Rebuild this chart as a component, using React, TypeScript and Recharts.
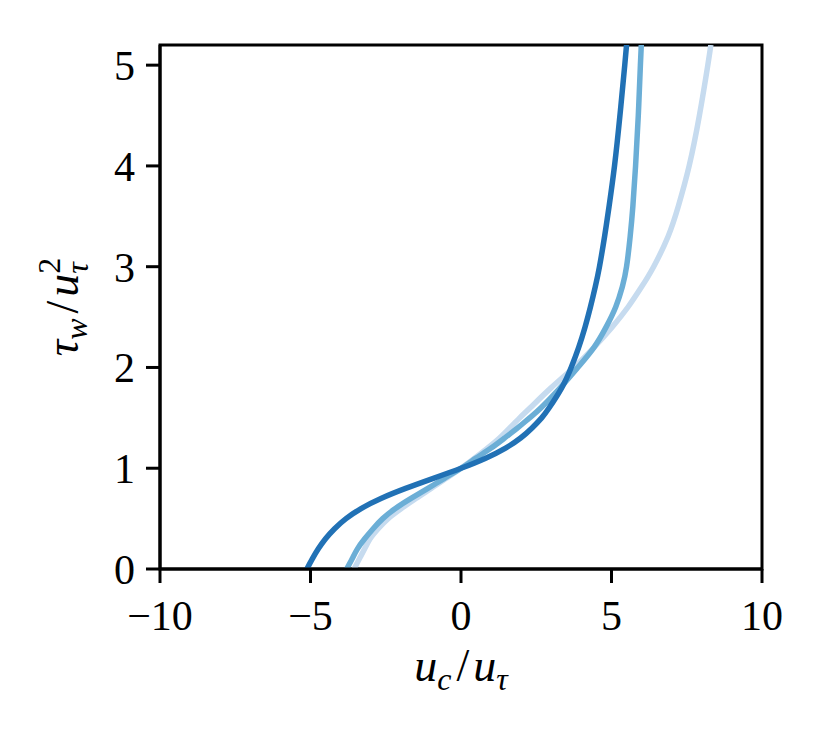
import { LineChart, Line, XAxis, YAxis, ReferenceArea } from 'recharts'

// wall shear stress levels (y) shared by all three curves
const tau = [
  0, 0.1, 0.2, 0.3, 0.4, 0.5, 0.6, 0.7, 0.8, 0.9, 1.0, 1.1, 1.2, 1.3, 1.4, 1.5, 1.6, 1.8, 2.0, 2.2,
  2.4, 2.6, 2.8, 3.0, 3.3, 3.6, 4.0, 4.5, 5.0, 5.2,
]

// u_c / u_tau at the tau levels above
const darkU = [
  -5.12, -4.94, -4.74, -4.5, -4.2, -3.82, -3.32, -2.66, -1.84, -0.92, 0, 0.82, 1.48, 1.98, 2.36, 2.68,
  2.93, 3.35, 3.66, 3.91, 4.12, 4.3, 4.46, 4.6, 4.77, 4.92, 5.1, 5.28, 5.44, 5.5,
]
const midU = [
  -3.8, -3.62, -3.44, -3.2, -2.92, -2.6, -2.18, -1.66, -1.1, -0.55, 0, 0.5, 1.0, 1.45, 1.88, 2.28,
  2.66, 3.3, 3.88, 4.42, 4.82, 5.14, 5.36, 5.5, 5.62, 5.71, 5.8, 5.89, 5.96, 5.99,
]
const lightU = [
  -3.55, -3.38, -3.2, -3.02, -2.75, -2.42, -1.98, -1.5, -0.99, -0.49, 0, 0.45, 0.88, 1.28, 1.62, 1.95,
  2.3, 3.0, 3.75, 4.42, 5.02, 5.55, 6.0, 6.4, 6.88, 7.22, 7.58, 7.92, 8.2, 8.3,
]

const xTicks = [-10, -5, 0, 5, 10]
const yTicks = [0, 1, 2, 3, 4, 5]

const toPoints = (u: number[]) => u.map((x, i) => ({ x, y: tau[i] }))

const FONT = "'Liberation Serif', serif"
const tickStyle = { fill: '#000', fontSize: 42, fontFamily: FONT }
const axisStroke = { stroke: '#000', strokeWidth: 3 }

const fmt = (v: number) => (v < 0 ? `\u2212${Math.abs(v)}` : `${v}`)

function XLabel(props: any) {
  const vb = props.viewBox || {}
  const cx = (vb.x ?? 160) + (vb.width ?? 602) / 2
  return (
    <text x={cx} y={681} textAnchor="middle" fontFamily={FONT} fontSize={46} fill="#000">
      <tspan fontStyle="italic">u</tspan>
      <tspan fontStyle="italic" fontSize={32} dy={9}>c</tspan>
      <tspan dx={5} dy={-9}>/</tspan>
      <tspan fontStyle="italic" dx={4}>u</tspan>
      <tspan fontStyle="italic" fontSize={32} dy={9}>τ</tspan>
    </text>
  )
}

function YLabel(props: any) {
  const vb = props.viewBox || {}
  const cy = (vb.y ?? 45) + (vb.height ?? 524) / 2
  const cx = 78
  return (
    <text
      x={cx}
      y={cy}
      transform={`rotate(-90, ${cx}, ${cy})`}
      textAnchor="middle"
      fontFamily={FONT}
      fontSize={46}
      fill="#000"
    >
      <tspan fontStyle="italic">τ</tspan>
      <tspan fontStyle="italic" fontSize={32} dy={9}>w</tspan>
      <tspan dx={5} dy={-9}>/</tspan>
      <tspan fontStyle="italic" dx={4}>u</tspan>
      <tspan fontSize={32} dy={-18}>2</tspan>
      <tspan fontStyle="italic" fontSize={32} dx={-16} dy={28}>τ</tspan>
    </text>
  )
}

const series = [
  { u: lightU, color: '#c6dbef' },
  { u: midU, color: '#6baed6' },
  { u: darkU, color: '#2171b5' },
]

export default function App() {
  return (
    <div style={{ position: 'absolute', left: 0, top: 0, background: '#fff' }}>
      <LineChart width={829} height={743} margin={{ top: 45, right: 67, bottom: 0, left: 0 }}>
        <XAxis
          type="number"
          dataKey="x"
          domain={[-10, 10]}
          ticks={xTicks}
          interval={0}
          allowDataOverflow
          height={174}
          tickSize={14}
          tickMargin={17}
          axisLine={axisStroke}
          tickLine={axisStroke}
          tick={tickStyle}
          tickFormatter={fmt}
          label={XLabel}
        />
        <YAxis
          type="number"
          dataKey="y"
          domain={[0, 5.2]}
          ticks={yTicks}
          interval={0}
          allowDataOverflow
          width={160}
          tickSize={14}
          tickMargin={11}
          axisLine={axisStroke}
          tickLine={axisStroke}
          tick={tickStyle}
          label={YLabel}
        />
        {series.map((s) => (
          <Line
            key={s.color}
            data={toPoints(s.u)}
            dataKey="y"
            type="natural"
            stroke={s.color}
            strokeWidth={5.5}
            dot={false}
            activeDot={false}
            isAnimationActive={false}
          />
        ))}
        <ReferenceArea
          x1={-10}
          x2={10}
          y1={0}
          y2={5.2}
          fill="none"
          fillOpacity={0}
          stroke="#000"
          strokeWidth={3}
          strokeOpacity={1}
        />
      </LineChart>
    </div>
  )
}
